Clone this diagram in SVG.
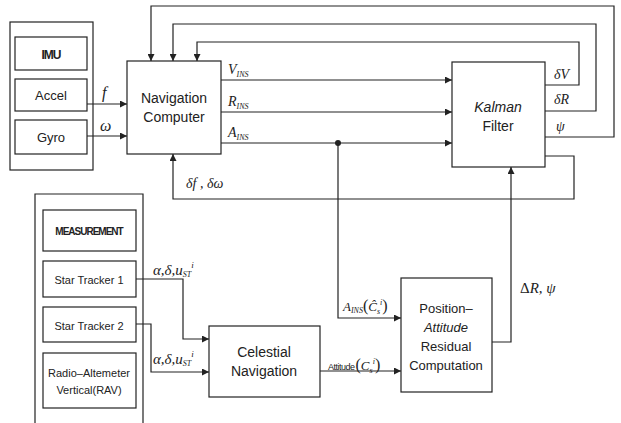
<svg xmlns="http://www.w3.org/2000/svg" width="621" height="423" viewBox="0 0 621 423">
<style>
.box{fill:#fff;stroke:#222;stroke-width:1.2}
.ln{fill:none;stroke:#222;stroke-width:1.2}
.t{font-family:"Liberation Sans",Arial,sans-serif;fill:#222;text-anchor:middle}
.m{font-family:"Liberation Serif","Times New Roman",serif;font-style:italic;fill:#222}
</style>
<defs>
<marker id="ar" viewBox="0 0 10 10" refX="10" refY="5" markerWidth="8" markerHeight="7" markerUnits="userSpaceOnUse" orient="auto"><path d="M0,0L10,5L0,10z" fill="#222"/></marker>
</defs>
<rect width="621" height="423" fill="#fff"/>
<g id="imu-group">
<rect class="box" x="10" y="22" width="83" height="148"/>
<g id="imu"><rect class="box" x="15" y="37" width="72" height="33"/><text class="t" x="51" y="59" font-size="12" font-weight="bold" letter-spacing="-1">IMU</text></g>
<g id="accel"><rect class="box" x="15" y="79" width="72" height="32"/><text class="t" x="51" y="100" font-size="13">Accel</text></g>
<g id="gyro"><rect class="box" x="15" y="120" width="72" height="34"/><text class="t" x="51" y="142" font-size="13">Gyro</text></g>
</g>
<g id="nav"><rect class="box" x="127" y="61" width="94" height="93"/><text class="t" x="174" y="103" font-size="14">Navigation</text><text class="t" x="174" y="122" font-size="14">Computer</text></g>
<g id="kalman"><rect class="box" x="452" y="62" width="93" height="105"/><text class="t" x="498" y="112" font-size="14" font-style="italic">Kalman</text><text class="t" x="498" y="131" font-size="14">Filter</text></g>
<g id="meas-group">
<path class="ln" d="M35,425V194H143V425"/>
<g id="measurement"><rect class="box" x="43" y="210" width="93" height="41"/><text class="t" x="89" y="235" font-size="10" font-weight="bold" letter-spacing="-1">MEASUREMENT</text></g>
<g id="st1"><rect class="box" x="43" y="261" width="93" height="36"/><text class="t" x="89" y="284" font-size="11">Star Tracker 1</text></g>
<g id="st2"><rect class="box" x="43" y="307" width="93" height="35"/><text class="t" x="89" y="330" font-size="11">Star Tracker 2</text></g>
<g id="rav"><rect class="box" x="43" y="353" width="93" height="55"/><text class="t" x="89" y="377" font-size="11">Radio–Altemeter</text><text class="t" x="89" y="394" font-size="11">Vertical(RAV)</text></g>
</g>
<g id="celestial"><rect class="box" x="209" y="326" width="111" height="71"/><text class="t" x="264" y="357" font-size="14">Celestial</text><text class="t" x="264" y="376" font-size="14">Navigation</text></g>
<g id="position"><rect class="box" x="401" y="278" width="91" height="114"/><text class="t" x="446" y="313" font-size="13">Position–</text><text class="t" x="446" y="332" font-size="13" font-style="italic">Attitude</text><text class="t" x="446" y="351" font-size="13">Residual</text><text class="t" x="446" y="370" font-size="13">Computation</text></g>
<g id="connectors">
<path class="ln" d="M87,104H127" marker-end="url(#ar)"/>
<path class="ln" d="M87,136H127" marker-end="url(#ar)"/>
<path class="ln" d="M221,80H452" marker-end="url(#ar)"/>
<path class="ln" d="M221,112H452" marker-end="url(#ar)"/>
<path class="ln" d="M221,143H452" marker-end="url(#ar)"/>
<path class="ln" d="M545,137H614V6H151V61" marker-end="url(#ar)"/>
<path class="ln" d="M545,111H596V24H173V61" marker-end="url(#ar)"/>
<path class="ln" d="M545,85H579V42H197V61" marker-end="url(#ar)"/>
<path class="ln" d="M545,156H574V199H173V154" marker-end="url(#ar)"/>
<circle cx="338" cy="143" r="3" fill="#222"/>
<path class="ln" d="M338,143V318H401" marker-end="url(#ar)"/>
<path class="ln" d="M320,371H401" marker-end="url(#ar)"/>
<path class="ln" d="M492,342H511V167" marker-end="url(#ar)"/>
<path class="ln" d="M136,279H183V339H209" marker-end="url(#ar)"/>
<path class="ln" d="M136,324H151V372H209" marker-end="url(#ar)"/>
</g>
<g id="labels">
<text class="m" x="102" y="98" font-size="16">f</text>
<text class="m" x="100" y="131" font-size="16">ω</text>
<text class="m" x="228" y="74" font-size="14">V<tspan font-size="8" dy="3">INS</tspan></text>
<text class="m" x="228" y="106" font-size="14">R<tspan font-size="8" dy="3">INS</tspan></text>
<text class="m" x="228" y="137" font-size="14">A<tspan font-size="8" dy="3">INS</tspan></text>
<text class="m" x="186" y="188" font-size="14">δf , δω</text>
<text class="m" x="554" y="79" font-size="14">δV</text>
<text class="m" x="554" y="104" font-size="14">δR</text>
<text class="m" x="556" y="131" font-size="14">ψ</text>
<text class="m" x="520" y="293" font-size="15"><tspan font-style="normal">Δ</tspan>R, ψ</text>
<text class="m" x="153" y="275" font-size="15">α,δ,u<tspan font-size="8" dy="2">ST</tspan><tspan font-size="9" dy="-9">i</tspan></text>
<text class="m" x="153" y="364" font-size="15">α,δ,u<tspan font-size="8" dy="2">ST</tspan><tspan font-size="9" dy="-9">i</tspan></text>
<text class="m" x="343" y="311" font-size="13">A<tspan font-size="8" dy="2">INS</tspan><tspan font-style="normal" font-size="16" dy="-2">(</tspan>Ĉ<tspan font-size="8" dy="3">s</tspan><tspan font-size="8" dy="-9">i</tspan><tspan font-style="normal" font-size="16" dy="6">)</tspan></text>
<text class="m" x="328" y="370" font-size="13"><tspan font-family="Liberation Sans,sans-serif" font-style="normal" font-size="9" letter-spacing="-0.5">Attitude</tspan><tspan font-style="normal" font-size="16" dx="1">(</tspan>C<tspan font-size="8" dy="3">s</tspan><tspan font-size="8" dy="-9">i</tspan><tspan font-style="normal" font-size="16" dy="6">)</tspan></text>
</g>
</svg>
